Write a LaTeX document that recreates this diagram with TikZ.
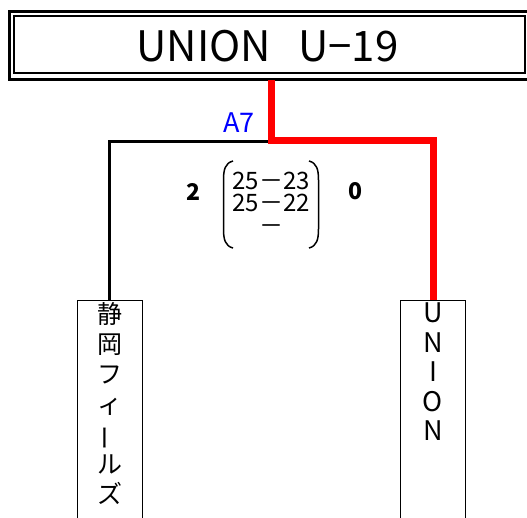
\documentclass[tikz,border=0pt]{standalone}
\usepackage{fontspec}
\setmainfont{Noto Sans CJK JP}
\usepackage{graphicx}
\tikzset{
  x=1pt, y=1pt,
  teambox/.style={draw=black, line width=1pt, minimum width=65pt, minimum height=240pt, anchor=north, inner sep=0pt},
  teamtext/.style={anchor=north, align=center, inner sep=0pt},
  winline/.style={draw=red, line width=7pt, line join=miter},
  loseline/.style={draw=black, line width=3pt, line join=miter},
  setsfont/.style={font=\fontsize{24}{22.5}\selectfont},
  scorefont/.style={font=\bfseries\fontsize{23}{23}\selectfont, inner sep=0pt},
}
\begin{document}
\begin{tikzpicture}
\useasboundingbox (0,0) rectangle (527,-517);
\clip (0,0) rectangle (527,-517);
\fill[white] (0,0) rectangle (527,-517);
% title
\draw[line width=3pt] (9,-11) rectangle (535,-79.5);
\draw[line width=2pt] (14,-16) rectangle (525,-73);
\node[inner sep=0pt, font=\fontsize{42}{42}\selectfont] (title) at (267.5,-46) {UNION\hspace{0.65em}U−19};
\coordinate (tb) at (271,-80);
% team boxes
\node[teambox] (left) at (109.5,-300) {};
\node[teambox] (right) at (433,-300) {};
\node[teamtext, font=\fontsize{25}{30}\selectfont] (lname) at (109.5,-302) {静\\岡\\フ\\ィ\\\rotatebox[origin=c]{90}{ー}\\ル\\ズ};
\node[teamtext, font=\fontsize{27}{29.5}\selectfont] (rname) at (433,-303) {U\\N\\I\\O\\N};
% connectors
\coordinate (j) at (271,-141);
\draw[loseline] (left.north) |- (j);
\draw[winline] (tb) -- (271,-140) -| (right.north);
% match label
\node[text=blue, font=\fontsize{27}{27}\selectfont, inner sep=0pt] (a7) at (239,-123) {A7};
\node[scorefont] (s1) at (193.5,-191.5) {2};
\node[scorefont] (s2) at (355,-191.5) {0};
\node[setsfont, align=center, inner sep=0pt] (sets) at (271,-203) {25－23\\25－22\\－};
\draw[line width=1.5pt] (233,-161) .. controls (225,-163) and (223.5,-170) .. (223.5,-180) -- (223.5,-229) .. controls (223.5,-239) and (225,-246) .. (233,-248);
\draw[line width=1.5pt] (309,-161) .. controls (317,-163) and (318.5,-170) .. (318.5,-180) -- (318.5,-229) .. controls (318.5,-239) and (317,-246) .. (309,-248);
\end{tikzpicture}
\end{document}
